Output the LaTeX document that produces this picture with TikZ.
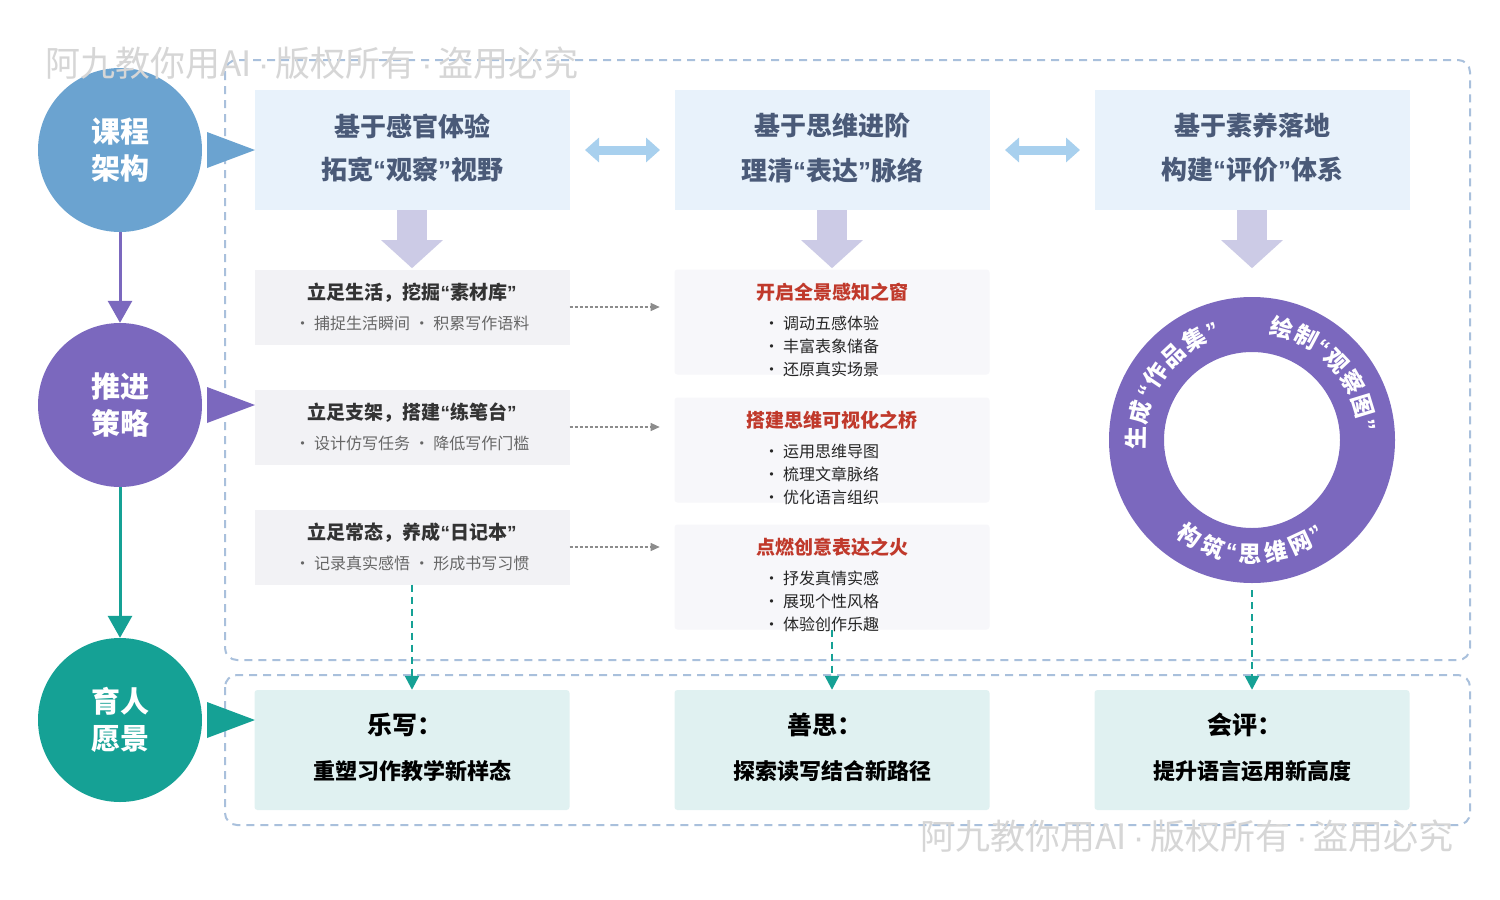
\documentclass[tikz,border=0pt]{standalone}
\usepackage{fontspec}
\setmainfont{Noto Sans CJK SC}
\newfontfamily\lat{Liberation Sans}
\newcommand{\oq}{{\lat “}}
\newcommand{\cq}{{\lat ”}}
\newcommand{\mdt}{{\lat\,·\,}}
\usetikzlibrary{arrows.meta,shapes.geometric,calc}
\definecolor{cblue}{HTML}{6BA3D0}
\definecolor{cpur}{HTML}{7B68BE}
\definecolor{cteal}{HTML}{15A195}
\definecolor{cdash}{HTML}{A9C0DC}
\definecolor{topfill}{HTML}{E8F2FB}
\definecolor{toptext}{HTML}{4A5A78}
\definecolor{darrow}{HTML}{A8D0EE}
\definecolor{lav}{HTML}{CCCBE6}
\definecolor{sfill}{HTML}{F2F2F5}
\definecolor{mfill}{HTML}{F7F7FA}
\definecolor{cred}{HTML}{C0392B}
\definecolor{bfill}{HTML}{E0F1F1}
\definecolor{wm}{HTML}{D6D6D6}
\begin{document}
\begin{tikzpicture}[x=1pt,y=-1pt,
  circ/.style={circle,minimum size=164pt,inner sep=0,text=white,font=\fontsize{29}{37}\selectfont\bfseries,align=center},
  tbox/.style={rectangle,fill=topfill,minimum width=315pt,minimum height=120pt,inner sep=0},
  sbox/.style={rectangle,fill=sfill,minimum width=315pt,minimum height=75pt,inner sep=0},
  mbox/.style={rectangle,fill=mfill,rounded corners=3pt,minimum width=315pt,minimum height=105pt,inner sep=0},
  bbox/.style={rectangle,fill=bfill,rounded corners=3pt,minimum width=315pt,minimum height=120pt,inner sep=0},
  ttxt/.style={text=toptext,font=\fontsize{26}{30}\selectfont\bfseries},
  stit/.style={text=black!80,font=\fontsize{19}{23}\selectfont\bfseries},
  ssub/.style={text=black!60,font=\fontsize{16}{20}\selectfont},
  mtit/.style={text=cred,font=\fontsize{19}{23}\selectfont\bfseries},
  mbul/.style={text=black!85,font=\fontsize{16}{20}\selectfont,anchor=west},
  btit/.style={text=black,font=\fontsize{25}{30}\selectfont\bfseries},
  bsub/.style={text=black,font=\fontsize{22}{26}\selectfont\bfseries},
  ring/.style={text=white,inner sep=0,font=\fontsize{23}{26}\selectfont\bfseries},
  frame/.style={draw=cdash,line width=2pt,dash pattern=on 8pt off 6pt,rounded corners=12pt},
  dot/.style={draw=black!45,densely dashed,line width=1.2pt,-{Triangle[length=9pt,width=8pt]}},
  tdash/.style={draw=cteal,line width=2.5pt,dash pattern=on 7pt off 5pt,-{Triangle[length=14pt,width=14pt]}},
  darr/.style={draw=darrow,line width=9pt,{Triangle[length=14pt,width=24pt]}-{Triangle[length=14pt,width=24pt]}},
  varr/.style={draw=lav,line width=30pt,-{Triangle[length=28pt,width=60pt]}}
]
\useasboundingbox (0,0) rectangle (1500,900);
\fill[white] (0,0) rectangle (1500,900);
% dashed frames
\draw[frame] (225,60) rectangle (1470,660);
\draw[frame] (225,675) rectangle (1470,825);
% circles
\node[circ,fill=cblue] (c1) at (120,150) {课程\\架构};
\node[circ,fill=cpur] (c2) at (120,405) {推进\\策略};
\node[circ,fill=cteal] (c3) at (120,720) {育人\\愿景};
\draw[cpur,line width=3pt,-{Triangle[length=22pt,width=24pt]}] (c1) -- (c2);
\draw[cteal,line width=3pt,-{Triangle[length=22pt,width=24pt]}] (c2) -- (c3);
\fill[cblue] (207,132) -- (255,150) -- (207,168) -- cycle;
\fill[cpur] (207,387) -- (255,405) -- (207,423) -- cycle;
\fill[cteal] (207,702) -- (255,720) -- (207,738) -- cycle;
% top boxes
\node[tbox] (t1) at (412,150) {};
\node[tbox] (t2) at (832,150) {};
\node[tbox] (t3) at (1252,150) {};
\node[ttxt] at (412,126) {基于感官体验};
\node[ttxt] at (412,170) {拓宽\oq 观察\cq 视野};
\node[ttxt] at (832,126) {基于思维进阶};
\node[ttxt] at (832,170) {理清\oq 表达\cq 脉络};
\node[ttxt] at (1252,126) {基于素养落地};
\node[ttxt] at (1252,170) {构建\oq 评价\cq 体系};
\coordinate (d1a) at (585,150); \coordinate (d1b) at (660,150);
\coordinate (d2a) at (1005,150); \coordinate (d2b) at (1080,150);
\draw[darr] (d1a) -- (d1b);
\draw[darr] (d2a) -- (d2b);
% strategy boxes
\node[sbox] (s1) at (412,307) {};
\node[sbox] (s2) at (412,427) {};
\node[sbox] (s3) at (412,547) {};
\node[stit] at (412,293) {立足生活，挖掘\oq 素材库\cq};
\node[ssub] at (412,323) {· 捕捉生活瞬间 · 积累写作语料};
\node[stit] at (412,413) {立足支架，搭建\oq 练笔台\cq};
\node[ssub] at (412,443) {· 设计仿写任务 · 降低写作门槛};
\node[stit] at (412,533) {立足常态，养成\oq 日记本\cq};
\node[ssub] at (412,563) {· 记录真实感悟 · 形成书写习惯};
% middle boxes
\node[mbox] (m1) at (832,322) {};
\node[mbox] (m2) at (832,450) {};
\node[mbox] (m3) at (832,577) {};
\node[mtit] at (832,292) {开启全景感知之窗};
\node[mbul] at (760,323) {· 调动五感体验};
\node[mbul] at (760,346) {· 丰富表象储备};
\node[mbul] at (760,369) {· 还原真实场景};
\node[mtit] at (832,420) {搭建思维可视化之桥};
\node[mbul] at (760,451) {· 运用思维导图};
\node[mbul] at (760,474) {· 梳理文章脉络};
\node[mbul] at (760,497) {· 优化语言组织};
\node[mtit] at (832,547) {点燃创意表达之火};
\node[mbul] at (760,578) {· 抒发真情实感};
\node[mbul] at (760,601) {· 展现个性风格};
\node[mbul] at (760,624) {· 体验创作乐趣};
% dotted arrows
\draw[dot] (s1.east) -- ++(90,0);
\draw[dot] (s2.east) -- ++(90,0);
\draw[dot] (s3.east) -- ++(90,0);
% vertical lavender arrows
\draw[varr] (t1.south) -- ++(0,58);
\draw[varr] (t2.south) -- ++(0,58);
\draw[varr] (t3.south) -- ++(0,58);
% ring
\fill[cpur,even odd rule] (1252,440) circle (143pt) (1252,440) circle (88pt);
\coordinate (ring) at (1252,590);
\foreach \ch/\a in {生/179,成/166,\oq/155.5,作/146,品/133,集/120,\cq/110}{
  \node[ring,rotate=\a-90] at ($(1252,440)+(\a:116pt)$) {\ch};
}
\foreach \ch/\a in {绘/75,制/62,\oq/52.5,观/43,察/30,图/17,\cq/7.5}{
  \node[ring,rotate=\a-90] at ($(1252,440)+(\a:116pt)$) {\ch};
}
\foreach \ch/\a in {构/237,筑/250,\oq/259.5,思/269,维/282,网/295,\cq/304.5}{
  \node[ring,rotate=\a+90] at ($(1252,440)+(\a:114pt)$) {\ch};
}
% bottom boxes
\node[bbox] (b1) at (412,750) {};
\node[bbox] (b2) at (832,750) {};
\node[bbox] (b3) at (1252,750) {};
\node[btit] at (405,725) {乐写：};
\node[bsub] at (412,771) {重塑习作教学新样态};
\node[btit] at (825,725) {善思：};
\node[bsub] at (832,771) {探索读写结合新路径};
\node[btit] at (1245,725) {会评：};
\node[bsub] at (1252,771) {提升语言运用新高度};
% teal dashed
\draw[tdash] (s3.south) -- (b1.north);
\draw[tdash] (m3.south) -- (b2.north);
\draw[tdash] (ring) -- (b3.north);
% watermarks
\node[text=wm,font=\fontsize{35}{40}\selectfont,anchor=west] at (42,63) {阿九教你用AI\mdt 版权所有\mdt 盗用必究};
\node[text=wm,font=\fontsize{35}{40}\selectfont,anchor=west] at (917,836) {阿九教你用AI\mdt 版权所有\mdt 盗用必究};
\end{tikzpicture}
\end{document}
